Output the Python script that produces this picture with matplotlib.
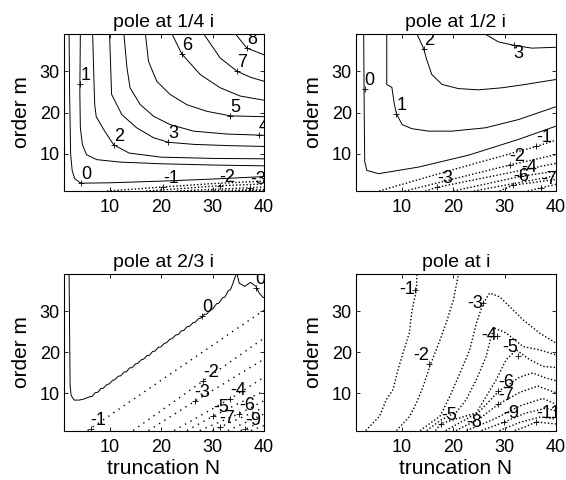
import matplotlib.pyplot as plt

plt.rcParams['font.family'] = ['Liberation Sans', 'DejaVu Sans']

# ---- pole at 1/4 i : contour level, truncation N, order m ----
p1_levels = [0, 1, 2, 3, 4, 5, 6, 7, 8, -1, -2, -3, -4, -5]
p1_N = [
    [2.0, 2.1, 2.3, 2.6, 3.1, 4.3, 10, 20, 30, 40],
    [4.2, 4.1, 4.2, 4.6, 5.4, 7.4, 12, 20, 30, 40],
    [6.6, 6.8, 7.0, 7.3, 8.8, 10.7, 13.7, 20, 30, 40],
    [9.9, 10.3, 12.3, 15.2, 18.5, 21.4, 26.3, 33, 40],
    [12.7, 13.3, 13.9, 15.9, 18.5, 21.7, 26.3, 32.8, 40],
    [16.9, 17.5, 19.1, 21.7, 25.0, 28.9, 33.5, 40],
    [22.1, 24.0, 27.6, 31.5, 35.4, 40],
    [28.3, 31.5, 34.8, 37.5, 40],
    [34.5, 36.7, 40],
    [9.4, 15, 20.4, 30, 40],
    [17, 25, 31.4, 40],
    [23, 30, 37.4, 40],
    [29, 40],
    [35, 40],
]
p1_m = [
    [39, 25, 10, 6, 4.0, 2.9, 3.0, 3.4, 3.9, 4.5],
    [39, 25, 16.3, 12.3, 9.8, 8.6, 8.0, 7.6, 7.3, 7.1],
    [39, 30, 22, 19, 15.8, 12.2, 10.2, 9.2, 8.9, 8.8],
    [39, 24.4, 19.5, 16.3, 13.9, 12.8, 12.3, 12.0, 11.8],
    [39, 30.8, 26.0, 21.9, 19.1, 17.1, 15.5, 14.8, 14.5],
    [39, 32.4, 27.6, 24.4, 21.9, 20.3, 19.2, 19.0],
    [39, 34.2, 29.2, 26.0, 24.0, 23.0],
    [39, 33.2, 30.0, 28.5, 27.6],
    [39, 35.6, 34.0],
    [1.0, 1.5, 2.0, 2.8, 3.4],
    [1.0, 1.7, 2.3, 2.7],
    [1.0, 1.4, 1.8, 2.0],
    [1.0, 1.4],
    [1.0, 1.2],
]
p1_lab = [0, 1, 2, 3, 4, 5, 6, 7, 8, -1, -2, -3]
p1_lab_N = [4.3, 4.2, 10.7, 21.4, 39.0, 33.5, 24.0, 34.8, 36.7, 20.4, 31.4, 37.4]
p1_lab_m = [2.9, 26.8, 12.2, 12.8, 14.6, 19.2, 34.2, 30.0, 35.6, 2.0, 2.3, 1.8]

# ---- pole at 1/2 i ----
p2_levels = [0, 1, 2, 3, -1, -2, -3, -4, -5, -6, -7]
p2_N = [
    [2.5, 2.6, 2.7, 3.1, 5.4, 13.2, 23.0, 32.7, 40],
    [7.0, 7.0, 8.0, 8.5, 8.9, 10.0, 11.9, 15.2, 19.7, 26.2, 32.7, 40],
    [12.9, 14.2, 14.8, 15.8, 17.8, 21.0, 24.9, 29.5, 34.0, 40],
    [26.2, 28.8, 31.8, 35.3, 40],
    [5.5, 20, 36.2, 40],
    [10.5, 31.0, 40],
    [14.5, 16.8, 40],
    [20, 33.3, 40],
    [24, 40],
    [29, 31.6, 40],
    [34.5, 37.2, 40],
]
p2_m = [
    [39, 20.3, 8.2, 6.0, 5.2, 6.8, 9.7, 13.5, 16.7],
    [39, 26.8, 26.1, 21.9, 19.7, 17.1, 16.1, 15.5, 15.5, 16.3, 18.3, 21.4],
    [39, 35.5, 32.8, 29.2, 26.8, 25.8, 25.5, 26.0, 26.8, 28.0],
    [39, 37.1, 36.3, 35.6, 35.8],
    [1, 6.2, 11.8, 13.3],
    [1, 7.3, 9.8],
    [1, 1.9, 7.7],
    [1, 4.6, 5.8],
    [1, 4.7],
    [1, 2.4, 3.8],
    [1, 1.8, 2.6],
]
p2_lab = [0, 1, 2, 3, -1, -2, -3, -4, -6, -7]
p2_lab_N = [2.7, 8.9, 14.2, 31.8, 36.2, 31.0, 16.8, 33.3, 31.6, 37.2]
p2_lab_m = [25.7, 19.7, 35.5, 36.3, 11.8, 7.3, 1.9, 4.6, 2.4, 1.8]

# ---- pole at 2/3 i ----
p3_levels = [0, 0, -1, -2, -3, -4, -5, -6, -7, -8, -9, -10]
p3_N = [
    [2.0, 2.1, 2.2, 2.4, 3.0, 4.0, 5.0, 6.0, 6.5, 7.1, 7.6, 8.2, 8.7, 9.4,
     9.8, 10.5, 10.9, 11.6, 12.1, 12.7, 13.2, 13.8, 14.3, 15.0, 15.4, 16.1,
     16.5, 17.2, 17.7, 18.3, 18.8, 19.4, 19.9, 20.6, 21.0, 21.7, 22.1, 22.8,
     23.3, 23.9, 24.4, 25.0, 25.5, 26.2, 26.6, 27.3, 27.7, 28.4, 28.9, 29.6,
     30.0, 30.8, 31.2, 32.0, 32.4, 33.1, 33.5, 34.0, 34.6],
    [34.8, 35.2, 36.3, 37.4, 38.5, 39.1, 39.8, 40],
    [5.6, 40],
    [14.5, 28.2, 40],
    [17.5, 26.5, 40],
    [22.5, 33.4, 40],
    [25, 30.1, 40],
    [27.5, 35.2, 40],
    [30, 31.4, 40],
    [33, 40],
    [35.5, 36.3, 40],
    [37.5, 40],
]
p3_m = [
    [39, 25, 12, 9.5, 8.4, 8.4, 8.7, 9.2, 9.3, 10.2, 10.3, 11.2, 11.3, 12.2,
     12.3, 13.2, 13.3, 14.2, 14.3, 15.2, 15.3, 16.2, 16.3, 17.2, 17.3, 18.2,
     18.3, 19.2, 19.3, 20.2, 20.3, 21.2, 21.3, 22.2, 22.3, 23.2, 23.3, 24.2,
     24.3, 25.2, 25.3, 26.2, 26.3, 27.2, 27.3, 28.2, 28.3, 29.2, 29.3, 30.4,
     30.5, 31.8, 31.9, 33.3, 33.4, 35.0, 35.2, 36.8, 39],
    [39, 36.8, 36.0, 37.0, 36.0, 34.4, 33.4, 33.3],
    [1, 30.2],
    [1, 13.1, 23.4],
    [1, 8.1, 18.3],
    [1, 8.7, 13.9],
    [1, 4.5, 10.6],
    [1, 5.1, 8.2],
    [1, 1.8, 6.6],
    [1, 5.0],
    [1, 1.3, 3.4],
    [1, 2.2],
]
p3_lab = [0, 0, -1, -2, -3, -4, -5, -6, -7, -9]
p3_lab_N = [28.0, 38.4, 6.2, 28.2, 26.5, 33.4, 30.1, 35.2, 31.4, 36.3]
p3_lab_m = [28.7, 35.6, 1.5, 13.1, 8.1, 8.7, 4.5, 5.1, 1.8, 1.3]

# ---- pole at i ----
p4_levels = [-1, -2, -3, -4, -5, -6, -7, -8, -9, -10, -11]
p4_N = [
    [2.9, 5.6, 6.9, 8.2, 9.2, 10.2, 11.4, 11.9, 12.8, 12.9],
    [8.9, 11.5, 12.8, 14.1, 15.4, 17.4, 18.7, 20.0, 21.0],
    [13.5, 17.4, 19.3, 21.3, 23.2, 24.5, 25.8, 27.1, 29.0, 31.0, 33.6, 36.8, 40],
    [14.8, 17.5, 20.6, 22.5, 24.5, 26.4, 27.4, 28.0, 30.3, 33.6, 36.8, 40],
    [16.5, 17.6, 24.5, 26.4, 28.4, 30.3, 32.3, 34.9, 37.5, 40],
    [18.5, 25, 28.8, 33, 35.5, 38, 40],
    [20.5, 25, 28.8, 33, 36.5, 40],
    [22.6, 28, 33, 37.5, 40],
    [25.5, 29.8, 34, 38, 40],
    [29.0, 33, 37, 40],
    [32.0, 34, 36.2, 40],
]
p4_m = [
    [1, 4.5, 8.5, 10.9, 15.8, 19.9, 24.7, 29.9, 35.2, 39],
    [1, 4.5, 7.7, 11.7, 16.6, 23.0, 27.5, 32.7, 39],
    [1, 4.5, 9.3, 15.0, 20.6, 27.1, 31.9, 34.4, 33.5, 31.1, 27.9, 24.7, 22.3],
    [1, 3.5, 5.5, 8.5, 13.4, 19.0, 23.9, 25.9, 24.7, 21.4, 20.6, 19.4],
    [1, 2.7, 5.3, 9.3, 13.4, 18.2, 20.6, 18.2, 16.6, 16.3],
    [1, 5.5, 10.5, 14.0, 15.0, 13.8, 13.1],
    [1, 3.8, 7.4, 10.3, 11.8, 10.2],
    [1, 3.8, 7.0, 8.8, 7.4],
    [1, 3.0, 5.2, 6.4, 5.8],
    [1, 3.0, 4.3, 3.8],
    [1, 1.9, 3.1, 2.6],
]
p4_lab = [-1, -2, -3, -4, -5, -5, -6, -7, -8, -9, -11]
p4_lab_N = [12.6, 15.2, 25.8, 28.6, 32.6, 17.6, 28.8, 28.8, 22.6, 29.8, 36.2]
p4_lab_m = [35.2, 17.1, 31.9, 24.0, 19.0, 2.7, 10.5, 7.4, 1.0, 3.0, 3.1]

titles = ['pole at 1/4 i', 'pole at 1/2 i', 'pole at 2/3 i', 'pole at i']

# label text sits up-right of its '+' unless listed here
# (panel, label index) -> (ha, va)
label_align = {
    (1, 3): ('left', 'top'),
    (3, 0): ('right', 'center'),
    (3, 1): ('right', 'bottom'),
    (3, 2): ('right', 'center'),
    (3, 3): ('right', 'center'),
    (3, 4): ('right', 'bottom'),
}


def draw_panel(ax, k, levels, Ns, ms, lab, lab_N, lab_m, dots):
    for lv, n, m in zip(levels, Ns, ms):
        if lv >= 0:
            ax.plot(n, m, color='k', lw=0.7, ls='-')
        else:
            ax.plot(n, m, color='k', lw=1.0, ls=dots)
    for i, (lv, n, m) in enumerate(zip(lab, lab_N, lab_m)):
        ha, va = label_align.get((k, i), ('left', 'bottom'))
        ax.plot(n, m, '+', color='k', ms=5, mew=0.6)
        ax.text(n, m, str(lv), ha=ha, va=va, fontsize=13, clip_on=True)
    ax.set_xlim(1, 40)
    ax.set_ylim(1, 39)
    ax.set_xticks([10, 20, 30, 40])
    ax.set_yticks([10, 20, 30])
    ax.tick_params(direction='in', top=True, right=True, length=3, width=0.6,
                   labelsize=13)
    ax.tick_params(axis='x', pad=6)
    ax.tick_params(axis='y', pad=3)
    for s in ax.spines.values():
        s.set_linewidth(0.8)
    ax.set_ylabel('order m', fontsize=15, labelpad=6)


fig = plt.figure(figsize=(5.66, 4.8), dpi=100)
pos = [[0.113, 0.602, 0.353, 0.327], [0.629, 0.602, 0.353, 0.327],
       [0.113, 0.103, 0.353, 0.326], [0.629, 0.103, 0.353, 0.326]]
axes = [fig.add_axes(p) for p in pos]

draw_panel(axes[0], 0, p1_levels, p1_N, p1_m, p1_lab, p1_lab_N, p1_lab_m, (0, (1, 1.5)))
draw_panel(axes[1], 1, p2_levels, p2_N, p2_m, p2_lab, p2_lab_N, p2_lab_m, (0, (1, 1.5)))
draw_panel(axes[2], 2, p3_levels, p3_N, p3_m, p3_lab, p3_lab_N, p3_lab_m, (0, (1, 3.5)))
draw_panel(axes[3], 3, p4_levels, p4_N, p4_m, p4_lab, p4_lab_N, p4_lab_m, (0, (1, 1.5)))

for ax, t in zip(axes, titles):
    ax.set_title(t, fontsize=14, pad=5)
for ax in axes[2:]:
    ax.set_xlabel('truncation N', fontsize=15, labelpad=2)

fig.savefig('out.png', dpi=100)
